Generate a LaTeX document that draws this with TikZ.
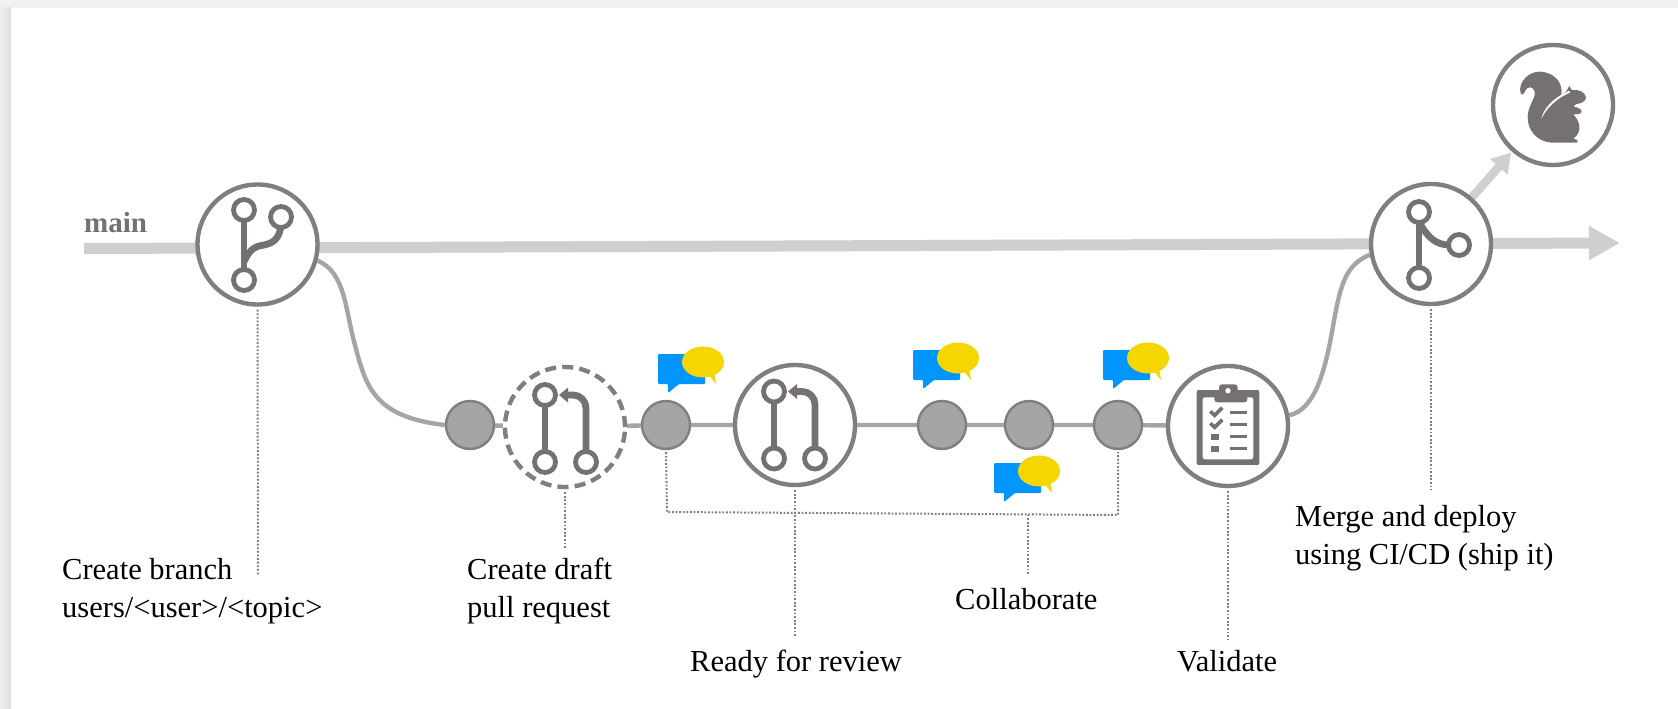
\documentclass[tikz,border=0pt]{standalone}
\usepackage{fontspec}
\setmainfont{Liberation Serif}
\usetikzlibrary{arrows.meta}
\pgfdeclarelayer{back}
\pgfsetlayers{back,main}
\definecolor{icongray}{HTML}{767171}
\definecolor{ringgray}{HTML}{7F7F7F}
\definecolor{nodegray}{HTML}{A5A5A5}
\definecolor{mainline}{HTML}{D0CECE}
\definecolor{bubbleblue}{HTML}{0095FF}
\definecolor{bubbleyellow}{HTML}{F5D600}
\tikzset{
  x=1pt,y=-1pt,
  ring/.style={circle,draw=ringgray,fill=white,line width=4.4pt,minimum size=120pt,inner sep=0pt},
  dashring/.style={ring,dash pattern=on 11pt off 6.2pt},
  dot/.style={circle,draw=ringgray,fill=nodegray,line width=2.4pt,minimum size=48pt,inner sep=0pt},
  trunk/.style={draw=mainline,line width=11pt},
  feeder/.style={draw=nodegray,line width=4.4pt},
  guide/.style={draw=ringgray,line width=2pt,dash pattern=on 1.8pt off 1.8pt},
  iconline/.style={draw=icongray,line width=6.8pt},
  iconring/.style={draw=icongray,fill=white,line width=4.8pt},
  caption/.style={font=\fontsize{30.5}{38.5}\selectfont,text=black,inner sep=0pt,anchor=west,align=left},
  oneline/.style={font=\fontsize{30.5}{38.5}\selectfont,text=black,inner sep=0pt,anchor=base west},
  pics/talk/.style={code={
    \fill[bubbleblue,rounded corners=1pt] (0,0) -- (47,0) -- (47,30) -- (21,30) -- (10,39) -- (10,30) -- (0,30) -- cycle;
    \fill[bubbleyellow] (45,8) ellipse [x radius=21,y radius=15.5];
    \fill[bubbleyellow] (50,20) -- (58,30) -- (56,18) -- cycle;
  }},
  pics/prglyph/.style={code={
    \draw[iconline] (0,0) -- (0,67);
    \draw[iconline,rounded corners=13pt] (41,67) -- (41,0) -- (20,0);
    \fill[icongray] (14,0) -- (23,-7.5) -- (23,7.5) -- cycle;
    \draw[iconring] (0,0) circle (10.5);
    \draw[iconring] (0,67) circle (10.5);
    \draw[iconring] (41,67) circle (10.5);
  }}
}
\begin{document}
\begin{tikzpicture}
\useasboundingbox (0,0) rectangle (1678,709);
\begin{pgfonlayer}{back}
  \fill[white] (0,0) rectangle (1678,709);
  \fill[black!6] (0,0) rectangle (1678,8);
  \shade[left color=black!6,right color=black!13] (0,8) rectangle (11,709);
\end{pgfonlayer}

% ---- nodes
\node[ring] (branch) at (257.5,244.5) {};
\node[ring] (merge) at (1431,244) {};
\node[ring] (ship) at (1553,105) {};
\node[dot] (n1) at (470,425) {};
\node[dashring] (draft) at (565,427) {};
\node[dot] (n2) at (666,425) {};
\node[ring] (pr) at (795,425) {};
\node[dot] (n3) at (942,425) {};
\node[dot] (n4) at (1029,425) {};
\node[dot] (n5) at (1118,425) {};
\node[ring] (validate) at (1228,426) {};

% ---- free ends
\coordinate (mainstart) at (84,248.5);
\coordinate (mainend) at (1620,243);
\coordinate (bend1) at (667,512);
\coordinate (bend2) at (1118,515);
\coordinate (joinC) at (1028,514.5);

% ---- texts
\node[font=\fontsize{29}{34}\selectfont\bfseries,text=icongray,inner sep=0pt,anchor=west] (mainlabel) at (84,223) {main};
\node[caption] (lbranch) at (62,591) {Create branch\\users/<user>/<topic>};
\node[caption] (ldraft) at (467,591) {Create draft\\pull request};
\node[oneline] (lcollab) at (955,609) {Collaborate};
\node[oneline] (lready) at (690,671) {Ready for review};
\node[oneline] (lvalid) at (1177,671) {Validate};
\node[caption] (lmerge) at (1295,538) {Merge and deploy\\using CI/CD (ship it)};

\coordinate (e1) at (258,576);
\coordinate (e2) at (565,548);
\coordinate (e3) at (795,636);
\coordinate (e4) at (1028,575);
\coordinate (e5) at (1228,640);
\coordinate (e6) at (1431,490);

% ---- connectors
\begin{pgfonlayer}{back}
  \draw[trunk,-{Triangle[length=31pt,width=32pt]}] (mainstart) -- (mainend);
  \draw[draw=mainline,line width=8.5pt,-{Triangle[length=19pt,width=22pt]},shorten >=1pt] (merge) -- (ship);
  \draw[feeder] (branch.-15) .. controls (346,273) and (345,310) .. (355,345) .. controls (366,388) and (375,417) .. (n1.west);
  \draw[feeder] (validate.10) .. controls (1315,410) and (1325,370) .. (1332,332) .. controls (1340,285) and (1345,265) .. (merge.190);
  \draw[feeder] (n1) -- (draft) -- (n2) -- (pr) -- (n3) -- (n4) -- (n5) -- (validate);
\end{pgfonlayer}
\draw[guide] ([yshift=-3pt]branch.south) -- (e1);
\draw[guide] ([yshift=-3pt]draft.south) -- (e2);
\draw[guide] ([yshift=-3pt]pr.south) -- (e3);
\draw[guide] ([yshift=-3pt]validate.south) -- (e5);
\draw[guide] ([yshift=-3pt]merge.south) -- (e6);
\draw[guide] ([yshift=-2pt]n2.south) -- (bend1) -- (bend2) -- ([yshift=-2pt]n5.south);
\draw[guide] (joinC) -- (e4);

% ---- speech bubbles
\pic at (658,354) {talk};
\pic at (913,350) {talk};
\pic at (1103,350) {talk};
\pic at (994,463) {talk};

% ---- create-branch glyph
\draw[iconline,line cap=round] (244,214) -- (244,275);
\draw[iconline] (244,262) .. controls (250,247) and (258,246) .. (264,245) .. controls (274,243) and (280,238) .. (281,224);
\draw[iconring] (244,210) circle (10.5);
\draw[iconring] (281,217) circle (10.5);
\draw[iconring] (244,280) circle (10.5);

% ---- merge glyph
\draw[iconline] (1419,212) -- (1419,278);
\draw[iconline] (1419,222) .. controls (1428,238) and (1436,245) .. (1450,245);
\draw[iconring] (1419,212) circle (10.5);
\draw[iconring] (1419,278) circle (10.5);
\draw[iconring] (1459,245) circle (10.5);

% ---- pull-request glyphs
\pic at (545,395) {prglyph};
\pic at (774,391.5) {prglyph};

% ---- clipboard glyph
\begin{scope}[shift={(1170,365)},x=0.3333pt,y=-0.3333pt]
  \fill[icongray,rounded corners=2pt,even odd rule] (80,75) rectangle (268,300) (98,97) rectangle (250,283);
  \fill[icongray,rounded corners=3pt] (133,112) -- (133,85) -- (147,85) -- (147,58) -- (203,58) -- (203,85) -- (232,85) -- (232,112) -- cycle;
  \fill[white] (174,77) circle (8);
  \draw[icongray,line width=3.6pt] (121,139) -- (134,151) -- (157,128);
  \draw[icongray,line width=3.6pt] (121,175) -- (134,187) -- (157,164);
  \fill[icongray] (124,206) rectangle (146,226);
  \fill[icongray] (124,242) rectangle (146,262);
  \foreach \yy in {143,179,215,251}
    \fill[icongray] (180,\yy-5.5) rectangle (232,\yy+5.5);
\end{scope}

% ---- squirrel glyph
\begin{scope}[shift={(1490,40)},x=0.3333pt,y=-0.3333pt]
  \fill[icongray] (92,160) .. controls (82,125) and (120,92) .. (152,95)
    .. controls (195,98) and (220,130) .. (214,165)
    -- (228,155) -- (238,138) -- (245,150)
    .. controls (265,148) and (285,155) .. (288,172)
    .. controls (288,185) and (270,192) .. (258,192)
    -- (250,200) .. controls (265,202) and (276,208) .. (275,216)
    .. controls (272,224) and (258,222) .. (250,224)
    .. controls (262,235) and (270,250) .. (268,268)
    .. controls (266,282) and (258,290) .. (250,296)
    -- (262,300) -- (262,308) -- (185,308)
    .. controls (140,305) and (112,270) .. (113,230)
    .. controls (114,195) and (138,175) .. (134,155)
    .. controls (130,138) and (112,138) .. (106,152)
    .. controls (102,162) and (96,168) .. (92,160) -- cycle;
  \fill[white] (238,152) .. controls (210,165) and (165,190) .. (154,236)
    .. controls (172,200) and (205,172) .. (240,158) -- cycle;
\end{scope}
\end{tikzpicture}
\end{document}
